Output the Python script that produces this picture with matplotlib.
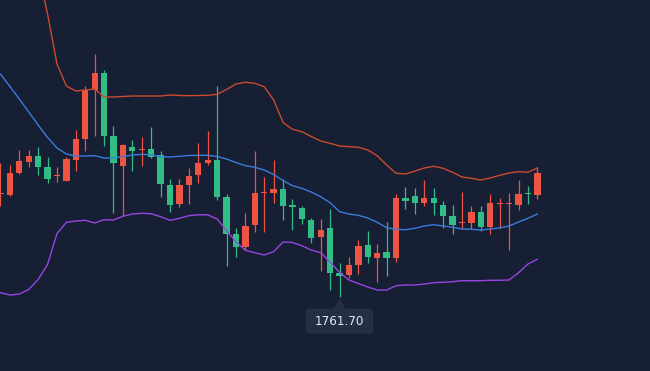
import numpy as np
import matplotlib
matplotlib.use("Agg")
import matplotlib.pyplot as plt
from matplotlib.patches import FancyBboxPatch, Polygon
from matplotlib.transforms import IdentityTransform

# daily OHLC
opens = [1813.05, 1812.55, 1823.7, 1829.2, 1832.05, 1826.4, 1821.9, 1819.7, 1830.2, 1840.55,
         1865.05, 1873.55, 1842.05, 1827.05, 1836.4, 1834.9, 1835.55, 1832.55, 1817.55, 1808.2,
         1817.55, 1822.7, 1828.7, 1830.05, 1811.7, 1793.2, 1786.55, 1797.7, 1813.4, 1813.7,
         1815.55, 1806.9, 1806.05, 1800.05, 1791.55, 1796.05, 1773.4, 1772.7, 1777.7, 1787.55,
         1781.2, 1784.05, 1781.2, 1811.05, 1812.05, 1808.7, 1811.05, 1807.55, 1802.05, 1798.4,
         1798.7, 1804.05, 1796.7, 1807.9, 1807.9, 1807.7, 1813.05, 1812.55]
highs = [1828.4, 1827.4, 1835.05, 1835.05, 1836.4, 1831.4, 1826.4, 1831.4, 1845.05, 1867.05,
         1883.05, 1875.05, 1847.05, 1838.05, 1840.05, 1841.55, 1846.55, 1834.55, 1820.55, 1820.55,
         1826.05, 1838.55, 1844.55, 1867.05, 1813.05, 1796.05, 1803.55, 1834.55, 1821.55, 1830.05,
         1820.55, 1810.55, 1807.2, 1801.05, 1800.55, 1805.55, 1778.55, 1781.55, 1790.05, 1794.4,
         1788.2, 1798.9, 1812.9, 1816.55, 1816.05, 1820.05, 1816.05, 1809.55, 1807.55, 1814.05,
         1807.05, 1807.05, 1813.05, 1811.05, 1813.55, 1820.05, 1817.05, 1826.55]
lows = [1807.2, 1812.05, 1822.9, 1826.7, 1822.55, 1818.7, 1819.2, 1819.7, 1824.7, 1834.7,
        1842.05, 1837.2, 1803.7, 1802.05, 1824.7, 1827.05, 1831.2, 1811.7, 1804.2, 1806.7,
        1808.05, 1818.7, 1827.7, 1810.05, 1777.2, 1781.7, 1784.9, 1794.05, 1794.05, 1808.7,
        1800.2, 1795.2, 1798.2, 1788.7, 1774.7, 1765.2, 1761.7, 1771.2, 1773.05, 1778.7,
        1769.2, 1772.2, 1779.2, 1805.55, 1803.2, 1807.2, 1802.7, 1796.2, 1793.2, 1795.4,
        1795.4, 1794.7, 1793.2, 1796.2, 1785.2, 1805.2, 1808.2, 1810.55]
closes = [1813.15, 1823.4, 1829.55, 1832.05, 1826.7, 1820.7, 1822.0, 1830.4, 1840.55, 1865.05,
          1873.4, 1842.05, 1828.7, 1837.55, 1834.55, 1835.0, 1831.55, 1818.2, 1807.7, 1817.55,
          1822.05, 1828.55, 1830.2, 1811.7, 1793.2, 1786.7, 1797.2, 1813.55, 1813.5, 1815.55,
          1807.2, 1806.8, 1800.7, 1791.2, 1795.05, 1773.7, 1772.2, 1777.55, 1787.05, 1781.7,
          1783.55, 1781.2, 1811.05, 1809.7, 1808.7, 1811.05, 1808.7, 1802.2, 1797.7, 1798.5,
          1804.05, 1796.7, 1808.55, 1808.0, 1808.0, 1813.05, 1812.95, 1823.55]

# bollinger bands
boll_upper = [1982.4, 1971.05, 1958.05, 1942.8, 1924.8, 1903.05, 1878.05, 1867.05, 1864.55, 1865.05,
              1865.55, 1861.55, 1861.55, 1861.8, 1862.05, 1862.05, 1862.05, 1862.05, 1862.55, 1862.3,
              1862.2, 1862.3, 1862.4, 1862.9, 1865.3, 1868.05, 1868.9, 1868.4, 1866.7, 1860.05,
              1848.8, 1845.4, 1844.2, 1841.8, 1839.55, 1838.4, 1837.05, 1836.7, 1836.4, 1835.05,
              1832.2, 1827.55, 1823.4, 1823.05, 1824.55, 1826.05, 1826.9, 1825.9, 1823.9, 1821.55,
              1820.9, 1820.05, 1821.05, 1822.4, 1823.55, 1824.2, 1823.9, 1826.05]
boll_mid = [1873.05, 1866.8, 1860.55, 1854.05, 1847.55, 1841.3, 1836.05, 1833.05, 1832.05, 1832.05,
            1832.2, 1831.05, 1831.05, 1831.8, 1832.55, 1832.9, 1832.65, 1831.7, 1831.55, 1831.9,
            1832.3, 1832.4, 1832.4, 1831.8, 1830.55, 1828.8, 1827.2, 1826.4, 1825.05, 1822.8,
            1819.8, 1817.2, 1815.9, 1814.05, 1811.7, 1808.7, 1804.2, 1803.05, 1802.4, 1801.05,
            1798.9, 1796.2, 1795.4, 1795.2, 1795.9, 1797.05, 1797.7, 1797.05, 1796.4, 1795.55,
            1795.4, 1795.05, 1795.55, 1796.05, 1797.05, 1799.05, 1800.9, 1803.05]
boll_lower = [1763.7, 1762.55, 1763.05, 1765.3, 1770.3, 1777.8, 1793.3, 1798.9, 1799.55, 1799.9,
              1798.55, 1800.2, 1800.05, 1801.9, 1803.05, 1803.4, 1803.2, 1801.7, 1799.9, 1800.9,
              1802.2, 1802.65, 1802.65, 1800.55, 1794.8, 1789.2, 1784.9, 1783.7, 1782.55, 1784.2,
              1789.05, 1788.8, 1787.15, 1785.05, 1783.7, 1779.05, 1773.8, 1770.05, 1768.3, 1766.55,
              1765.05, 1765.05, 1767.2, 1767.55, 1767.55, 1768.05, 1768.7, 1768.9, 1769.2, 1769.7,
              1769.7, 1769.7, 1769.9, 1769.9, 1770.05, 1773.7, 1778.05, 1780.4]

bg = "#161f33"
up_col = "#ee5444"
down_col = "#33bd86"

o = np.array(opens)
h = np.array(highs)
l = np.array(lows)
c = np.array(closes)
x = np.arange(len(o))
cols = np.where(c >= o, up_col, down_col)

fig = plt.figure(figsize=(6.5, 3.71), dpi=100)
fig.patch.set_facecolor(bg)
ax = fig.add_axes([0, 0, 1, 1])
ax.set_facecolor(bg)

# wicks + bodies
ax.vlines(x, l, h, colors=cols, linewidth=0.9, zorder=2)
body_h = np.maximum(np.abs(c - o), 0.6)
ax.bar(x, body_h, bottom=np.minimum(o, c), width=0.67, color=cols, linewidth=0, zorder=3)

ax.plot(x, boll_upper, color="#cc4a2e", lw=1.0, zorder=4)
ax.plot(x, boll_mid, color="#3a7cdc", lw=1.0, zorder=4)
ax.plot(x, boll_lower, color="#9745e4", lw=1.0, zorder=4)

ax.set_xlim(-0.05, 68.96)
ax.set_ylim(1724.55, 1910.05)
ax.axis("off")

# min marker label
imin = int(np.argmin(l))
px, py = ax.transData.transform((imin, l[imin]))
ident = IdentityTransform()
tri = Polygon([(px, py - 2), (px - 6, py - 12), (px + 6, py - 12)], closed=True,
              facecolor="#242e44", edgecolor="none", transform=ident)
box = FancyBboxPatch((px - 33.5, py - 37), 67, 25, boxstyle="round,pad=0,rounding_size=3",
                     facecolor="#242e44", edgecolor="none", transform=ident)
fig.add_artist(tri)
fig.add_artist(box)
fig.text(px, py - 24.5, "%.2f" % l[imin], transform=ident, ha="center", va="center",
         color="#e4e7ee", fontsize=8.6)

fig.savefig("out.png", dpi=100, facecolor=bg)
